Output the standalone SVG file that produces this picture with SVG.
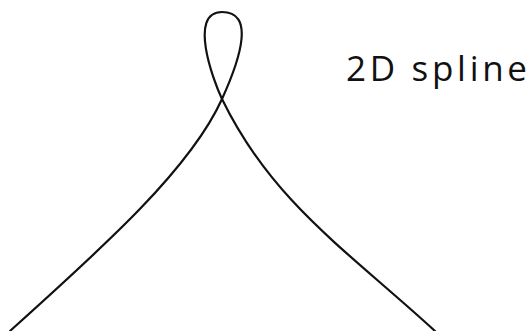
<svg xmlns="http://www.w3.org/2000/svg" width="531" height="331" viewBox="0 0 531 331">
<style>
.curve{fill:none;stroke:#111;stroke-width:2.2;stroke-linecap:round;stroke-linejoin:round}
.label{font-family:"Open Sans",Lato,"Liberation Sans",sans-serif;font-size:35px;font-weight:500;fill:#111}
</style>
<rect width="531" height="331" fill="#fff"/>
<g id="spline">
<path class="curve" d="M10,331 C100,250 190,170 222,99 C242,55 254,12 222,12 C188,12 213,80 222,99 C272,202 347.5,250.7 435,331"/>
</g>
<g id="label">
<text class="label" x="346" y="81" textLength="181" lengthAdjust="spacing">2D spline</text>
</g>
</svg>
